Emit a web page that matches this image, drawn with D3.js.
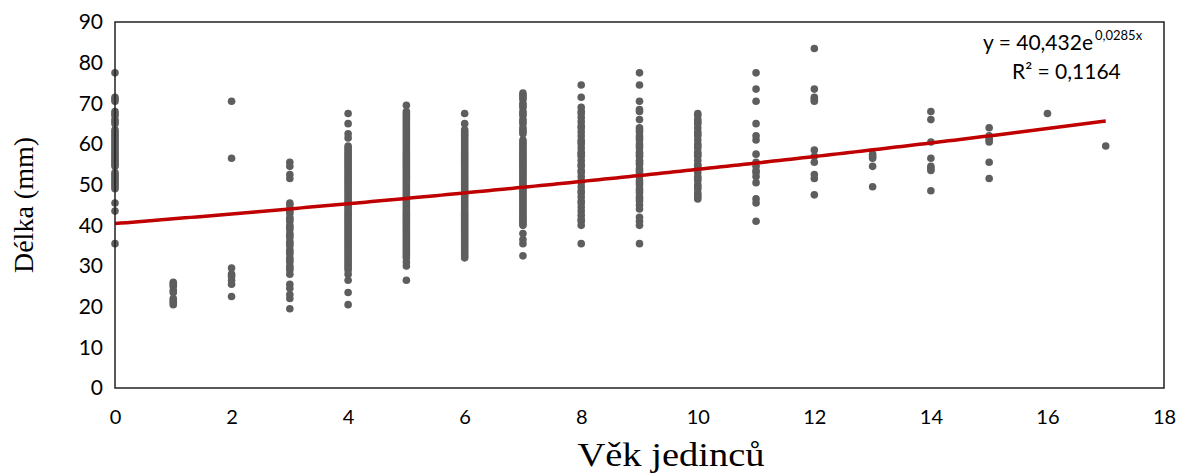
<!DOCTYPE html>
<html>
<head>
<meta charset="utf-8">
<script src="https://cdn.jsdelivr.net/npm/d3@7"></script>
<style>
  html, body { margin: 0; padding: 0; background: #fff; }
  svg { display: block; }
</style>
</head>
<body>
<svg id="chart" width="1190" height="474"></svg>
<script>
// ---- Data ----
const ages = [0, 1, 2, 3, 4, 5, 6, 7, 8, 9, 10, 11, 12, 13, 14, 15, 16, 17];

const age0 = [77.5, 71.5, 71, 70.5, 68, 67.5, 67, 66, 65.5, 65, 63.5, 63, 62.5, 62, 61.5, 61, 60.5, 60, 59.5, 59, 58.5, 58, 57.5, 57, 56.5, 56, 55.5, 55, 54.5, 53, 52.5, 52, 51.5, 51, 50.5, 50, 49.5, 49, 45.5, 43.5, 35.5];
const age1 = [26, 25.5, 25, 24, 23.5, 22, 21.5, 21, 20.5];
const age2 = [70.5, 56.5, 29.5, 28, 27.5, 26.5, 25.5, 22.5];
const age3 = [55.5, 54.5, 52.5, 51.5, 45.5, 45, 44, 43.5, 43, 42, 41.5, 41, 40, 39.5, 39, 38, 37.5, 37, 36, 35.5, 35, 34, 33.5, 33, 32, 31.5, 31, 30, 29.5, 29, 28, 25.5, 24.5, 23, 22, 19.5];
const age4 = [67.5, 65, 62.5, 61.5, 59.5, 59, 58.5, 58, 57.5, 57, 56.5, 56, 55.5, 55, 54.5, 54, 53.5, 53, 52.5, 52, 51.5, 51, 50.5, 50, 49.5, 49, 48.5, 48, 47.5, 47, 46.5, 46, 45.5, 45, 44.5, 44, 43.5, 43, 42.5, 42, 41.5, 41, 40.5, 40, 39.5, 39, 38.5, 38, 37.5, 37, 36.5, 36, 35.5, 35, 34.5, 34, 33.5, 33, 32.5, 32, 31.5, 31, 30.5, 30, 29.5, 29, 28, 26.5, 23.5, 20.5];
const age5 = [69.5, 68, 67.5, 67, 66.5, 66, 65.5, 65, 64.5, 64, 63.5, 63, 62.5, 62, 61.5, 61, 60.5, 60, 59.5, 59, 58.5, 58, 57.5, 57, 56.5, 56, 55.5, 55, 54.5, 54, 53.5, 53, 52.5, 52, 51.5, 51, 50.5, 50, 49.5, 49, 48.5, 48, 47.5, 47, 46.5, 46, 45.5, 45, 44.5, 44, 43.5, 43, 42.5, 42, 41.5, 41, 40.5, 40, 39.5, 39, 38.5, 38, 37.5, 37, 36.5, 36, 35.5, 35, 34.5, 34, 33.5, 33, 32.5, 32, 31, 30, 26.5];
const age6 = [67.5, 65, 63.5, 63, 62.5, 62, 61.5, 61, 60.5, 60, 59.5, 59, 58.5, 58, 57.5, 57, 56.5, 56, 55.5, 55, 54.5, 54, 53.5, 53, 52.5, 52, 51.5, 51, 50.5, 50, 49.5, 49, 48.5, 48, 47.5, 47, 46.5, 46, 45.5, 45, 44.5, 44, 43.5, 43, 42.5, 42, 41.5, 41, 40.5, 40, 39.5, 39, 38.5, 38, 37.5, 37, 36.5, 36, 35.5, 35, 34.5, 34, 33.5, 33, 32.5, 32];
const age7 = [72.5, 72, 71.5, 71, 70, 69.5, 69, 68, 67.5, 67, 66, 65.5, 65, 64, 63.5, 63, 62.5, 61, 60.5, 60, 59.5, 59, 58.5, 58, 57.5, 57, 56.5, 56, 55.5, 55, 54.5, 54, 53.5, 53, 52.5, 52, 51.5, 51, 50.5, 50, 49.5, 49, 48.5, 48, 47.5, 47, 46.5, 46, 45.5, 45, 44.5, 44, 43.5, 43, 42.5, 42, 41.5, 41, 40.5, 40, 38, 36.5, 35.5, 32.5];
const age8 = [74.5, 71.5, 69, 68, 67.5, 66.5, 65.5, 64.5, 64, 63, 62, 61, 60.5, 60, 59, 58, 57.5, 57, 56, 55, 54.5, 53.5, 53, 52, 51, 50.5, 49.5, 48.5, 48, 47, 46, 45.5, 44.5, 43.5, 42.5, 41.5, 41, 40, 35.5];
const age9 = [77.5, 74.5, 70.5, 68.5, 68, 66, 64, 63.5, 63, 62, 61.5, 61, 60, 59.5, 59, 58, 57.5, 57, 56, 55.5, 55, 54, 53.5, 53, 52, 51, 50.5, 50, 49, 48.5, 48, 47, 46.5, 46, 45, 44, 42, 41, 40, 35.5];
const age10 = [67.5, 67, 66, 65.5, 65, 64, 63, 62.5, 62, 61, 60, 59.5, 59, 58, 57.5, 57, 56, 55, 54.5, 54, 53, 52, 51.5, 51, 50, 49.5, 49, 48, 47.5, 47, 46.5];
const age11 = [77.5, 73.5, 70.5, 65, 62, 61, 57.5, 55.5, 54.5, 53.5, 53, 52, 50.5, 46.5, 45.5, 41];
const age12 = [83.5, 73.5, 71.5, 71, 70.5, 58.5, 57, 55.5, 52.5, 51.5, 47.5];
const age13 = [57.5, 57, 56.5, 54.5, 49.5];
const age14 = [68, 66, 60.5, 56.5, 54.5, 54, 53.5, 48.5];
const age15 = [64, 62, 61.5, 61, 60.5, 55.5, 51.5];
const age16 = [67.5];
const age17 = [59.5];

const lengthsByAge = [age0, age1, age2, age3, age4, age5, age6, age7, age8, age9,
                      age10, age11, age12, age13, age14, age15, age16, age17];

const xTicks = [0, 2, 4, 6, 8, 10, 12, 14, 16, 18];
const yTicks = [0, 10, 20, 30, 40, 50, 60, 70, 80, 90];

// exponential trend line printed on the chart: y = 40.432 e^(0.0285 x)
const trendA = 40.432;
const trendB = 0.0285;
const trendRange = [0, 17];

const xTitle = "Věk jedinců";
const yTitle = "Délka (mm)";
const eqMain = "y = 40,432e";
const eqSup = "0,0285x";
const r2Text = "R² = 0,1164";

// ---- Layout ----
const pLeft = 115, pRight = 1164, pTop = 22, pBottom = 388;
const svg = d3.select("#chart");

const x = d3.scaleLinear().domain([0, 18]).range([pLeft, pRight]);
const y = d3.scaleLinear().domain([0, 90]).range([pBottom, pTop]);

const tickFont = "Lato, 'Open Sans', sans-serif";
const tickSize = 20;

// x axis labels
const xAxis = d3.axisBottom(x).tickValues(xTicks).tickSize(0).tickPadding(22)
  .tickFormat(d3.format("d"));
const gx = svg.append("g").attr("transform", `translate(0,${pBottom})`).call(xAxis);
gx.select(".domain").remove();
gx.selectAll("text").attr("font-family", tickFont).attr("font-size", tickSize).attr("fill", "#000");

// y axis labels
const yAxis = d3.axisLeft(y).tickValues(yTicks).tickSize(0).tickPadding(12)
  .tickFormat(d3.format("d"));
const gy = svg.append("g").attr("transform", `translate(${pLeft},0)`).call(yAxis);
gy.select(".domain").remove();
gy.selectAll("text").attr("font-family", tickFont).attr("font-size", tickSize + 1).attr("fill", "#000");

// points
const points = [];
lengthsByAge.forEach((arr, i) => arr.forEach(v => points.push({ age: ages[i], len: v })));

svg.append("g").selectAll("circle").data(points).join("circle")
  .attr("cx", d => x(d.age))
  .attr("cy", d => y(d.len))
  .attr("r", 3.8)
  .attr("fill", "#5e5e5e");

// trend line
const trendPts = d3.range(trendRange[0], trendRange[1] + 0.0001, 0.1)
  .map(t => ({ t, v: trendA * Math.exp(trendB * t) }));
svg.append("path")
  .datum(trendPts)
  .attr("fill", "none")
  .attr("stroke", "#c00000")
  .attr("stroke-width", 3.5)
  .attr("d", d3.line().x(d => x(d.t)).y(d => y(d.v)));

// plot frame
svg.append("rect")
  .attr("x", pLeft).attr("y", pTop)
  .attr("width", pRight - pLeft).attr("height", pBottom - pTop)
  .attr("fill", "none").attr("stroke", "#222").attr("stroke-width", 1.5);

// equation
const eq = svg.append("text")
  .attr("x", 983).attr("y", 50)
  .attr("font-family", tickFont).attr("font-size", 21).attr("fill", "#000");
eq.append("tspan").text(eqMain);
eq.append("tspan").attr("font-size", 13).attr("dx", 2).attr("dy", -10).text(eqSup);

svg.append("text")
  .attr("x", 1012).attr("y", 79)
  .attr("font-family", tickFont).attr("font-size", 21).attr("fill", "#000")
  .text(r2Text);

// axis titles
svg.append("text")
  .attr("x", 671).attr("y", 466)
  .attr("text-anchor", "middle")
  .attr("font-family", "'Liberation Serif', 'Times New Roman', serif")
  .attr("font-size", 33)
  .attr("textLength", 187).attr("lengthAdjust", "spacingAndGlyphs")
  .attr("fill", "#000")
  .text(xTitle);

svg.append("text")
  .attr("transform", `translate(33,205) rotate(-90)`)
  .attr("text-anchor", "middle")
  .attr("font-family", "'Liberation Serif', 'Times New Roman', serif")
  .attr("font-size", 28).attr("fill", "#000")
  .text(yTitle);
</script>
</body>
</html>
